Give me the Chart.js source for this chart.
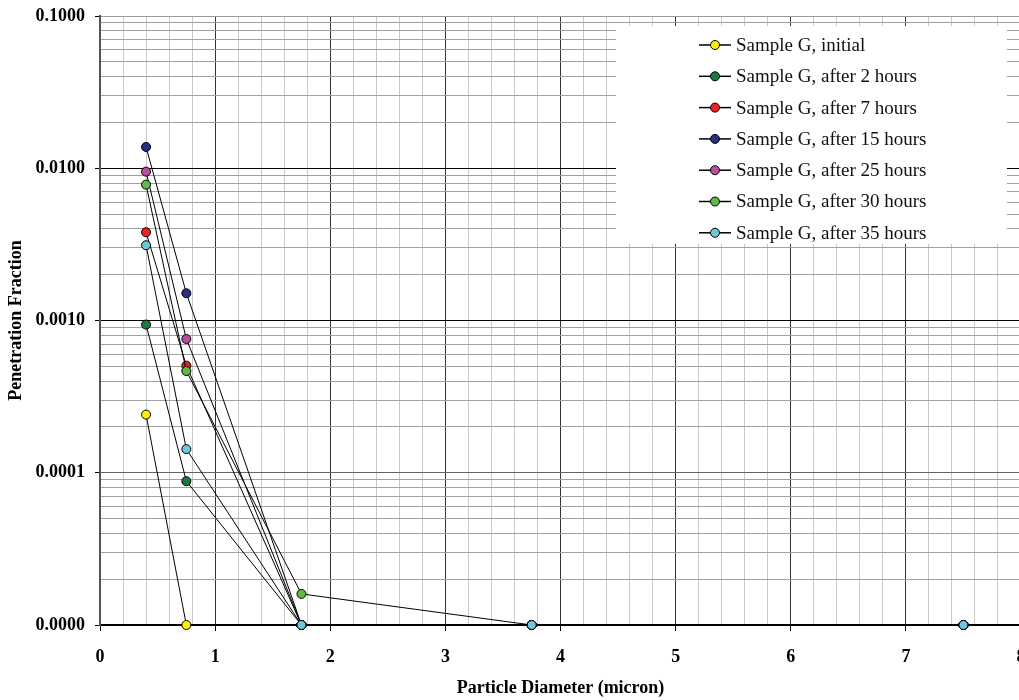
<!DOCTYPE html>
<html>
<head>
<meta charset="utf-8">
<title>Penetration Fraction vs Particle Diameter</title>
<script src="https://cdn.jsdelivr.net/npm/chart.js@4.4.0/dist/chart.umd.min.js"></script>
<style>
  html, body { margin: 0; padding: 0; background: #fff; overflow: hidden; }
  #wrap { width: 1045px; height: 700px; }
</style>
</head>
<body>
<div id="wrap"><canvas id="penChart" width="1045" height="700"></canvas></div>
<script>
// particle sizes (micron) measured for every sample
const diameters = [0.4, 0.75, 1.75, 3.75, 7.5];

// penetration fraction per sample; 0.00001 is the floor of the axis ("0.0000")
const initial = [0.000241, 0.00001, 0.00001, 0.00001, 0.00001];
const after2h = [0.00094, 0.000088, 0.00001, 0.00001, 0.00001];
const after7h = [0.0038, 0.000505, 0.00001, 0.00001, 0.00001];
const after15h = [0.0138, 0.00151, 0.00001, 0.00001, 0.00001];
const after25h = [0.0095, 0.000756, 0.00001, 0.00001, 0.00001];
const after30h = [0.0078, 0.000466, 0.000016, 0.00001, 0.00001];
const after35h = [0.00312, 0.000143, 0.00001, 0.00001, 0.00001];

const seriesNames = [
  'Sample G, initial',
  'Sample G, after 2 hours',
  'Sample G, after 7 hours',
  'Sample G, after 15 hours',
  'Sample G, after 25 hours',
  'Sample G, after 30 hours',
  'Sample G, after 35 hours'
];
const seriesValues = [initial, after2h, after7h, after15h, after25h, after30h, after35h];
const seriesColors = ['#ffee00', '#1e7a3c', '#ee2222', '#2b2f83', '#b84f9c', '#62b846', '#6cc8d8'];

// y axis decades and their printed labels
const yDecades = [0.00001, 0.0001, 0.001, 0.01, 0.1];
const yDecadeLabels = ['0.0000', '0.0001', '0.0010', '0.0100', '0.1000'];

const serif = '"Liberation Serif", "Times New Roman", serif';

function decadeIndex(v) {
  return yDecades.findIndex(d => Math.abs(v - d) / d < 1e-6);
}
function isWhole(v) {
  return Math.abs(v - Math.round(v)) < 1e-6;
}

const datasets = seriesNames.map((name, i) => ({
  label: name,
  data: diameters.map((d, j) => ({ x: d, y: seriesValues[i][j] })),
  borderColor: '#000',
  borderWidth: 1,
  pointRadius: 4.5,
  pointBorderWidth: 1,
  pointBorderColor: '#000',
  pointBackgroundColor: seriesColors[i],
  clip: false,
  // later samples sit on top
  order: seriesNames.length - 1 - i
}));

// white legend box in the upper right of the plot
const boxLegend = {
  id: 'boxLegend',
  afterDraw(chart) {
    const ctx = chart.ctx;
    ctx.save();
    ctx.fillStyle = '#fff';
    ctx.fillRect(616, 26, 391, 218);
    ctx.font = '19px ' + serif;
    ctx.textBaseline = 'middle';
    ctx.textAlign = 'left';
    chart.data.datasets.forEach((ds, i) => {
      const y = 45 + i * 31.3;
      ctx.strokeStyle = '#000';
      ctx.lineWidth = 1.5;
      ctx.beginPath();
      ctx.moveTo(699, y);
      ctx.lineTo(731, y);
      ctx.stroke();
      ctx.beginPath();
      ctx.arc(715, y, 4.5, 0, Math.PI * 2);
      ctx.fillStyle = ds.pointBackgroundColor;
      ctx.fill();
      ctx.lineWidth = 1;
      ctx.stroke();
      ctx.fillStyle = '#111';
      ctx.fillText(ds.label, 736, y + 1);
    });
    ctx.restore();
  }
};

// keep the plot box fixed; edge labels may hang over it
function fixPadding(s) {
  s.paddingTop = 0;
  s.paddingBottom = 0;
  s.paddingLeft = 0;
  s.paddingRight = 0;
}

const ctx = document.getElementById('penChart').getContext('2d');
const penChart = new Chart(ctx, {
  type: 'line',
  data: { datasets: datasets },
  options: {
    responsive: false,
    animation: false,
    events: [],
    layout: { padding: { left: 0, top: 16, right: 24, bottom: 0 } },
    plugins: {
      legend: { display: false },
      tooltip: { enabled: false }
    },
    scales: {
      x: {
        type: 'linear',
        min: 0,
        max: 8,
        afterFit: s => { s.height = 75; fixPadding(s); },
        ticks: {
          stepSize: 0.2,
          autoSkip: false,
          maxRotation: 0,
          padding: 16,
          color: '#000',
          font: { family: serif, size: 18, weight: 'bold' },
          callback: v => isWhole(v) ? String(Math.round(v)) : ''
        },
        grid: {
          lineWidth: 1,
          tickLength: 6,
          color: c => isWhole(c.tick.value) ? '#333' : '#c8c8c8',
          tickColor: c => isWhole(c.tick.value) ? '#000' : 'rgba(0,0,0,0)'
        },
        border: { color: '#000', width: 2 },
        title: {
          display: true,
          text: 'Particle Diameter (micron)',
          color: '#000',
          font: { family: serif, size: 18, weight: 'bold' },
          padding: { top: 0, bottom: 1 }
        }
      },
      y: {
        type: 'logarithmic',
        min: 0.00001,
        max: 0.1,
        afterFit: s => { s.width = 100; fixPadding(s); },
        afterBuildTicks: s => {
          const t = [];
          yDecades.forEach((d, i) => {
            t.push({ value: d });
            if (i < yDecades.length - 1) {
              for (let m = 2; m <= 9; m++) t.push({ value: d * m });
            }
          });
          s.ticks = t;
        },
        ticks: {
          autoSkip: false,
          padding: 10,
          color: '#000',
          font: { family: serif, size: 18, weight: 'bold' },
          callback: v => {
            const k = decadeIndex(v);
            return k >= 0 ? yDecadeLabels[k] : '';
          }
        },
        grid: {
          lineWidth: 1,
          tickLength: 5,
          color: c => {
            const k = decadeIndex(c.tick.value);
            if (k < 0) return '#a0a0a0';
            if (k === 4) return '#999';
            if (k === 1) return '#666';
            return '#000';
          },
          tickColor: c => decadeIndex(c.tick.value) >= 0 ? '#000' : 'rgba(0,0,0,0)'
        },
        border: { color: '#555', width: 2 },
        title: {
          display: true,
          text: 'Penetration Fraction',
          color: '#000',
          font: { family: serif, size: 18, weight: 'bold' },
          padding: { top: 6, bottom: 0 }
        }
      }
    }
  },
  plugins: [boxLegend]
});
</script>
</body>
</html>
